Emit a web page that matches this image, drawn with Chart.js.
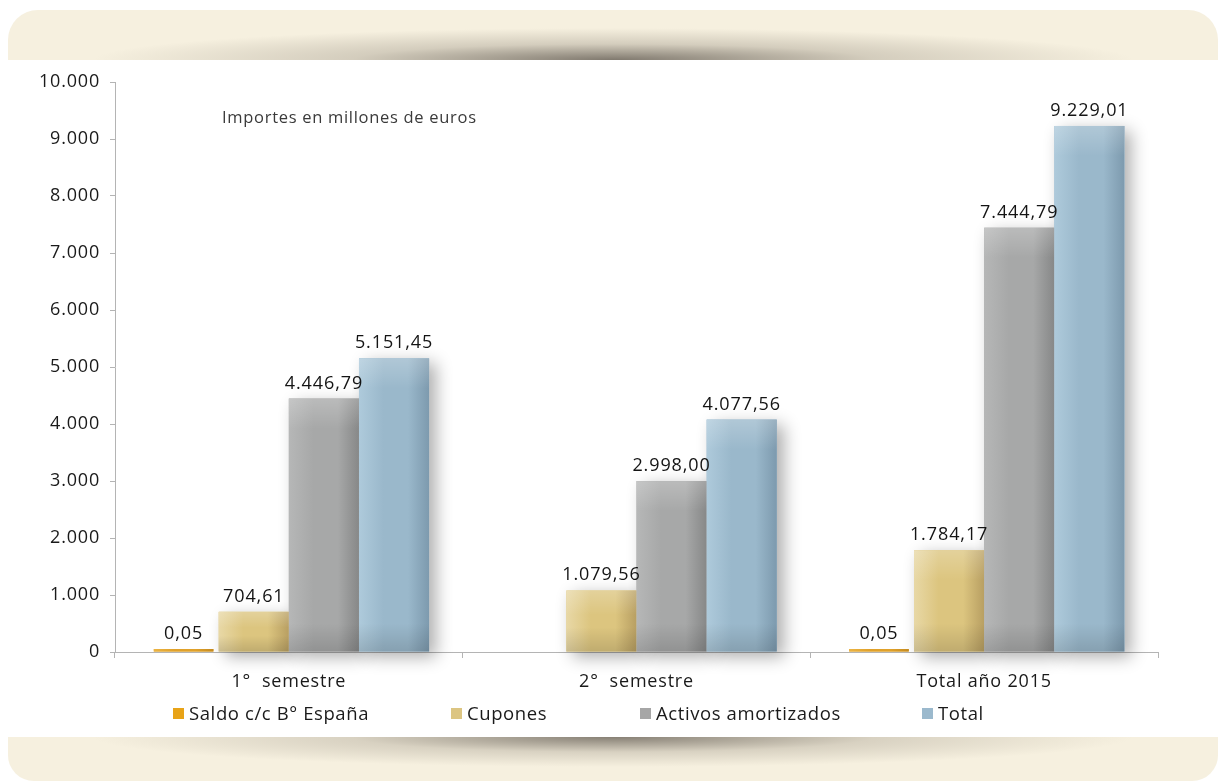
<!DOCTYPE html>
<html lang="es">
<head>
  <meta charset="UTF-8">
  <title>Importes 2015</title>
  <script src="https://cdn.jsdelivr.net/npm/chart.js"></script>
  <style>
    html, body { margin: 0; padding: 0; background: #fff; }
    body { width: 1220px; height: 783px; position: relative; overflow: hidden; font-family: "Open Sans", sans-serif; }
    #topBand {
      position: absolute; left: 8px; top: 10px; width: 1210px; height: 50px;
      border-radius: 30px 30px 0 0;
      background:
        radial-gradient(ellipse 520px 32px at 50% 100%, rgba(115,108,98,0.9), rgba(160,152,138,0.4) 50%, rgba(246,240,223,0) 100%),
        #f6f0df;
    }
    #bottomBand {
      position: absolute; left: 8px; top: 737px; width: 1210px; height: 44px;
      border-radius: 0 0 26px 26px;
      background:
        radial-gradient(ellipse 520px 30px at 50% 0%, rgba(115,108,98,0.85), rgba(160,152,138,0.35) 50%, rgba(246,240,223,0) 100%),
        #f6f0df;
    }
    #wrap { position: absolute; left: 0; top: 0; width: 1220px; height: 783px; }
    #note {
      position: absolute; left: 222px; top: 106px; font-size: 16.5px; line-height: 22px;
      letter-spacing: 0.7px; color: #3a3a3a;
    }
    #legend {
      position: absolute; left: 173px; top: 701px; display: flex; font-size: 18.5px;
      line-height: 24px; letter-spacing: 0.6px; color: #1a1a1a;
    }
    #legend .item { display: flex; align-items: center; }
    #legend .item:nth-child(1) { width: 278px; }
    #legend .item:nth-child(2) { width: 189px; }
    #legend .item:nth-child(3) { width: 282px; }
    #legend .sw { width: 11px; height: 11px; margin-right: 5px; }
  </style>
</head>
<body>
  <div id="topBand"></div>
  <div id="bottomBand"></div>
  <div id="wrap"><canvas id="chart"></canvas></div>
  <div id="note">Importes en millones de euros</div>
  <div id="legend"></div>

  <script>
    const categories = ["1°  semestre", "2°  semestre", "Total año 2015"];
    const seriesNames = ["Saldo c/c B° España", "Cupones", "Activos amortizados", "Total"];
    const saldo = [0.05, null, 0.05];
    const cupones = [704.61, 1079.56, 1784.17];
    const activos = [4446.79, 2998.00, 7444.79];
    const total = [5151.45, 4077.56, 9229.01];

    // base colour + light/dark shades for the shaded bars
    const palette = [
      { base: "#e0a12a", light: "#ebb444", dark: "#c48a20" },
      { base: "#dcc57f", light: "#e8d8a6", dark: "#b89f62" },
      { base: "#a7a8a8", light: "#b6b7b7", dark: "#878888" },
      { base: "#9ab8cb", light: "#aecadb", dark: "#7d9aae" }
    ];
    const legendColors = ["#e8a317", "#dcc582", "#a6a6a6", "#9bb9cd"];

    function fmtNum(v) {
      const [i, d] = v.toFixed(2).split(".");
      return i.replace(/\B(?=(\d{3})+(?!\d))/g, ".") + "," + d;
    }

    function fmtTick(v) {
      return String(v).replace(/\B(?=(\d{3})+(?!\d))/g, ".");
    }

    function eachBar(chart, fn) {
      chart.data.datasets.forEach((ds, di) => {
        const meta = chart.getDatasetMeta(di);
        meta.data.forEach((bar, i) => {
          if (ds.data[i] === null || ds.data[i] === undefined) return;
          const p = bar.getProps(["x", "y", "base", "width"], true);
          fn(ds, di, i, p);
        });
      });
    }

    const barFx = {
      id: "barFx",
      beforeDraw(chart) {
        // a touch of tracking on all axis text
        chart.ctx.letterSpacing = "0.8px";
      },
      beforeDatasetsDraw(chart) {
        const ctx = chart.ctx;
        ctx.save();
        ctx.shadowColor = "rgba(0,0,0,0.32)";
        ctx.shadowBlur = 16;
        ctx.shadowOffsetX = 7;
        ctx.shadowOffsetY = 5;
        ctx.fillStyle = "#ffffff";
        eachBar(chart, (ds, di, i, p) => {
          if (di === 0) return;
          ctx.fillRect(p.x - p.width / 2, p.y, p.width, p.base - p.y);
        });
        ctx.restore();
      },
      afterDatasetsDraw(chart) {
        const ctx = chart.ctx;
        ctx.save();
        eachBar(chart, (ds, di, i, p) => {
          const c = palette[di];
          const left = p.x - p.width / 2, h = p.base - p.y;
          const g = ctx.createLinearGradient(left, 0, left + p.width, 0);
          g.addColorStop(0, c.light);
          g.addColorStop(0.35, c.base);
          g.addColorStop(0.7, c.base);
          g.addColorStop(1, c.dark);
          ctx.fillStyle = g;
          ctx.fillRect(left, p.y, p.width, h);
          if (h > 20) {
            const v = ctx.createLinearGradient(0, p.y, 0, p.base);
            const t = Math.min(30 / h, 0.4), b = Math.max(1 - 28 / h, 0.6);
            v.addColorStop(0, "rgba(255,255,255,0.22)");
            v.addColorStop(t, "rgba(255,255,255,0)");
            v.addColorStop(b, "rgba(0,0,0,0)");
            v.addColorStop(1, "rgba(0,0,0,0.13)");
            ctx.fillStyle = v;
            ctx.fillRect(left, p.y, p.width, h);
          }
        });
        // value labels above each bar
        ctx.font = "18px 'Open Sans'";
        ctx.letterSpacing = "0.9px";
        ctx.fillStyle = "#141414";
        ctx.textAlign = "center";
        ctx.textBaseline = "alphabetic";
        eachBar(chart, (ds, di, i, p) => {
          ctx.fillText(fmtNum(ds.data[i]), p.x, p.y - 10);
        });
        ctx.restore();
      }
    };

    const seriesData = [saldo, cupones, activos, total];

    new Chart(document.getElementById("chart"), {
      type: "bar",
      data: {
        labels: categories,
        datasets: seriesNames.map((name, k) => ({
          label: name,
          data: seriesData[k],
          backgroundColor: palette[k].base,
          borderWidth: 0,
          categoryPercentage: 0.807,
          barPercentage: k === 0 ? 0.85 : 1,
          minBarLength: k === 0 ? 3 : 0
        }))
      },
      options: {
        responsive: true,
        maintainAspectRatio: false,
        animation: false,
        layout: { padding: { left: 0, top: 82, right: 62, bottom: 91 } },
        plugins: {
          legend: { display: false },
          tooltip: { enabled: false }
        },
        scales: {
          x: {
            afterFit(scale) { scale.height = 40; },
            grid: { drawOnChartArea: false, tickLength: 6, color: "#b4b4b4" },
            border: { color: "#b4b4b4" },
            ticks: { padding: 13, color: "#1a1a1a", font: { family: "Open Sans", size: 18 } }
          },
          y: {
            min: 0,
            max: 10000,
            afterFit(scale) { scale.width = 115; },
            grid: { drawOnChartArea: false, tickLength: 5, color: "#b4b4b4" },
            border: { color: "#b4b4b4" },
            ticks: {
              stepSize: 1000,
              padding: 10,
              color: "#1a1a1a",
              font: { family: "Open Sans", size: 18 },
              callback: v => fmtTick(v)
            }
          }
        }
      },
      plugins: [barFx]
    });

    // legend built from the series names and colours
    const legend = document.getElementById("legend");
    seriesNames.forEach((name, k) => {
      const item = document.createElement("div");
      item.className = "item";
      item.innerHTML = `<span class="sw" style="background:${legendColors[k]}"></span><span>${name}</span>`;
      legend.appendChild(item);
    });
  </script>
</body>
</html>
